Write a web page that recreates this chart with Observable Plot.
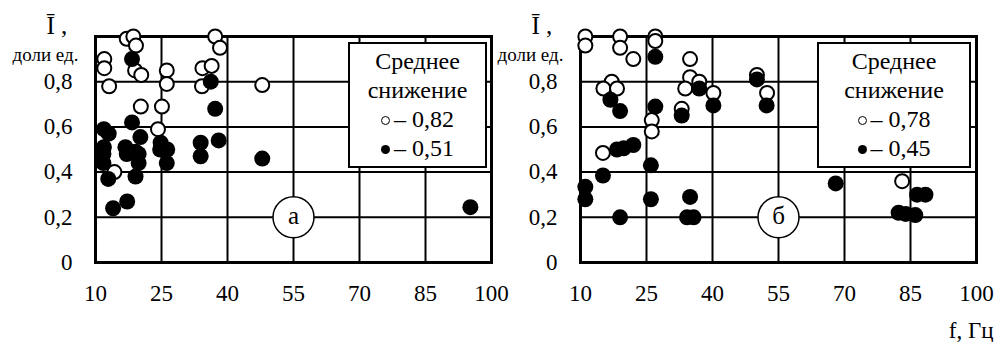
<!DOCTYPE html>
<html>
<head>
<meta charset="utf-8">
<script src="https://cdn.jsdelivr.net/npm/d3@7"></script>
<script src="https://cdn.jsdelivr.net/npm/@observablehq/plot@0.6"></script>
<style>
  html, body { margin: 0; padding: 0; background: white; }
  #wrap, #wrap * { font-family: "Liberation Serif", serif !important; }
  #wrap { position: relative; width: 998px; height: 342px; }
  .panel { position: absolute; top: 0; }
  .legend { position: absolute; top: 42px; height: 126px; border: 2px solid black; background: white;
            font-size: 24px; line-height: 29px; text-align: center; padding-top: 3px; box-sizing: border-box; }
  .mk { display: inline-block; width: 9px; height: 9px; border-radius: 50%; box-sizing: border-box; vertical-align: 2px; margin-right: 4px; }
  .mk.open { border: 1.5px solid black; background: white; }
  .mk.fill { background: black; }
</style>
</head>
<body>
<div id="wrap"></div>
<script>
// ---- data ----
const xTicks = [10, 25, 40, 55, 70, 85, 100];
const yTicks = [0, 0.2, 0.4, 0.6, 0.8];

// panel "а"
const aOpenX = [17.1, 18.6, 19.2, 12.0, 12.0, 13.1, 19.0, 20.4, 26.2, 26.2, 34.3, 36.4, 34.2, 37.2, 38.3, 20.3, 25.1, 24.2, 47.9, 14.3];
const aOpenY = [0.99, 1.0, 0.96, 0.90, 0.86, 0.78, 0.85, 0.83, 0.85, 0.79, 0.86, 0.87, 0.78, 1.0, 0.95, 0.69, 0.69, 0.59, 0.785, 0.40];
const aFillX = [18.3, 36.2, 37.2, 18.3, 11.9, 13.0, 20.2, 11.9, 16.8, 19.1, 24.8, 26.3, 33.9, 38.0, 33.9, 47.9, 11.8, 11.8, 17.1, 19.8, 19.8, 24.7, 26.2, 12.9, 19.1, 14.0, 17.2, 95.2];
const aFillY = [0.90, 0.80, 0.68, 0.62, 0.59, 0.57, 0.555, 0.51, 0.51, 0.49, 0.53, 0.50, 0.53, 0.54, 0.47, 0.46, 0.48, 0.44, 0.48, 0.48, 0.44, 0.50, 0.44, 0.37, 0.38, 0.24, 0.27, 0.245];

// panel "б"
const bOpenX = [11.1, 11.1, 19.0, 19.0, 22.0, 27.0, 27.0, 34.9, 17.1, 15.2, 18.3, 34.9, 33.8, 37.0, 40.2, 33.0, 26.2, 26.2, 15.1, 52.4, 50.1, 83.1];
const bOpenY = [1.0, 0.96, 1.0, 0.95, 0.90, 1.0, 0.98, 0.90, 0.80, 0.77, 0.77, 0.82, 0.77, 0.80, 0.75, 0.68, 0.63, 0.58, 0.485, 0.75, 0.83, 0.36];
const bFillX = [27.0, 16.8, 19.0, 27.0, 33.0, 37.0, 40.2, 50.1, 52.3, 18.3, 19.8, 22.0, 26.0, 15.1, 11.1, 11.1, 26.0, 19.0, 34.9, 34.2, 35.7, 68.0, 82.3, 83.9, 86.1, 86.5, 88.4];
const bFillY = [0.91, 0.72, 0.67, 0.69, 0.65, 0.77, 0.695, 0.81, 0.695, 0.50, 0.505, 0.52, 0.43, 0.385, 0.335, 0.28, 0.28, 0.20, 0.29, 0.20, 0.20, 0.35, 0.22, 0.215, 0.21, 0.30, 0.30];

const panelLabels = ["а", "б"];
const legendTitle = ["Среднее", "снижение"];
const legendOpen = ["0,82", "0,78"];
const legendFill = ["0,51", "0,45"];
const yLabel = "Ī ,";
const yUnit = "доли ед.";
const xLabel = "f, Гц";

const FONT = '"Liberation Serif", serif';
const fmt = d => String(d).replace(".", ",");
const pts = (xs, ys) => xs.map((x, i) => ({x, y: ys[i]}));

function panel(i, openPts, fillPts, mLeft, mRight, withXLabel) {
  const marks = [
    Plot.gridX(xTicks.slice(1, -1), {stroke: "black", strokeOpacity: 1, strokeWidth: 2}),
    Plot.gridY(yTicks.slice(1), {stroke: "black", strokeOpacity: 1, strokeWidth: 2}),
    Plot.frame({stroke: "black", strokeWidth: 3}),
    Plot.axisY(yTicks, {label: null, tickSize: 0, tickPadding: 23, tickFormat: fmt, fontSize: 23, fontFamily: FONT}),
    Plot.axisX(xTicks, {label: null, tickSize: 0, tickPadding: 22, tickFormat: d => String(d), fontSize: 23, fontFamily: FONT}),
    Plot.dot([{x: 55, y: 0.2}], {x: "x", y: "y", r: 20.5, fill: "white", stroke: "black", strokeWidth: 1.5}),
    Plot.text([panelLabels[i]], {x: () => 55, y: () => 0.2, fontSize: 25, dy: -1, fontFamily: FONT}),
    Plot.dot(openPts, {x: "x", y: "y", r: 7, fill: "white", stroke: "black", strokeWidth: 2}),
    Plot.dot(fillPts, {x: "x", y: "y", r: 8, fill: "black", stroke: "black", strokeWidth: 0}),
    Plot.text([yLabel], {frameAnchor: "top-left", dx: -49, dy: -3, textAnchor: "start", lineAnchor: "bottom", fontSize: 25, fontFamily: FONT}),
    Plot.text([yUnit], {frameAnchor: "top-left", dx: -50, dy: 24, textAnchor: "middle", lineAnchor: "bottom", fontSize: 19, fontFamily: FONT})
  ];
  if (withXLabel) {
    marks.push(Plot.text([xLabel], {frameAnchor: "bottom-right", dx: 17, dy: 75, textAnchor: "end", lineAnchor: "bottom", fontSize: 23, fontFamily: FONT}));
  }
  const svg = Plot.plot({
    width: 499,
    height: 342,
    marginLeft: mLeft,
    marginRight: mRight,
    marginTop: 36,
    marginBottom: 80,
    x: {domain: [10, 100]},
    y: {domain: [0, 1]},
    style: {fontFamily: FONT, fontSize: "22px", background: "transparent", overflow: "visible", color: "black"},
    marks
  });
  svg.setAttribute("font-family", FONT);
  return svg;
}

const wrap = document.getElementById("wrap");
const pA = panel(0, pts(aOpenX, aOpenY), pts(aFillX, aFillY), 95, 8, false);
const pB = panel(1, pts(bOpenX, bOpenY), pts(bFillX, bFillY), 81, 22, true);
pA.classList.add("panel"); pA.style.left = "0px";
pB.classList.add("panel"); pB.style.left = "499px";
wrap.appendChild(pA);
wrap.appendChild(pB);

const legendBoxes = [{left: 348, width: 139}, {left: 817, width: 154}];
legendBoxes.forEach((b, i) => {
  const d = document.createElement("div");
  d.className = "legend";
  d.style.left = b.left + "px";
  d.style.width = b.width + "px";
  d.innerHTML = `<div>${legendTitle[0]}</div><div>${legendTitle[1]}</div>` +
    `<div><span class="mk open"></span>– ${legendOpen[i]}</div>` +
    `<div><span class="mk fill"></span>– ${legendFill[i]}</div>`;
  wrap.appendChild(d);
});
</script>
</body>
</html>
